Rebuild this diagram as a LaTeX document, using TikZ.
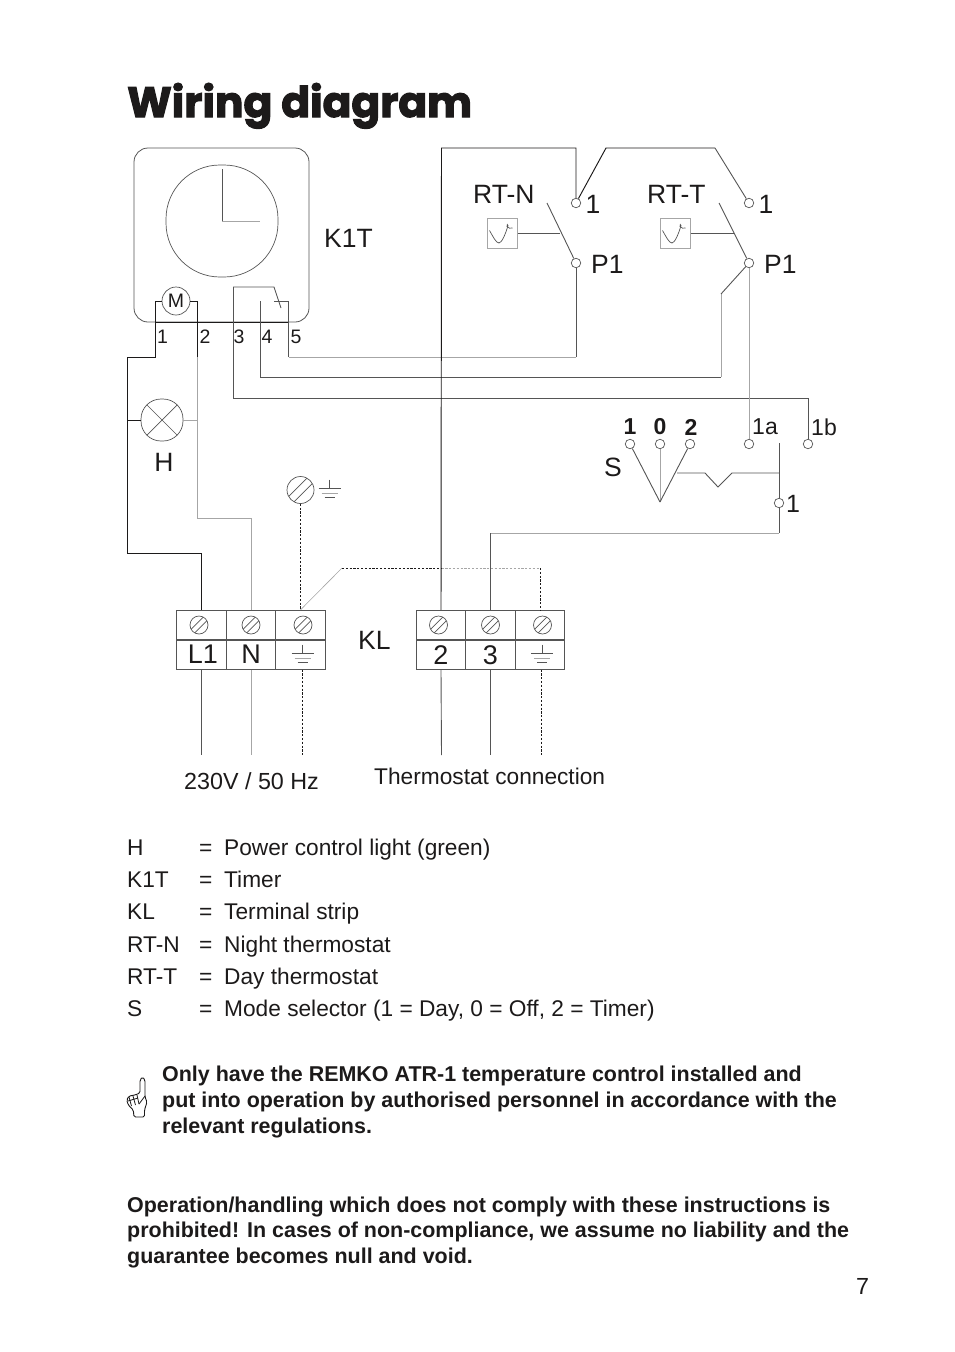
\documentclass[tikz,border=0pt]{standalone}
\usepackage{fontspec}
\setmainfont{Liberation Sans}
\newfontfamily\titlefont[FakeBold=2.6]{Poppins Bold}
\usetikzlibrary{calc,positioning}
\definecolor{inkk}{HTML}{1C1A1A}
\definecolor{wiredk}{HTML}{555555}
\definecolor{wirelt}{HTML}{A6A6A6}
\tikzset{
  wirek/.style={draw=inkk, line width=0.95pt},
  wired/.style={draw=wiredk, line width=0.9pt},
  wirel/.style={draw=wirelt, line width=1pt},
  earthw/.style={draw=inkk, line width=0.9pt, dash pattern=on 2.2pt off 1.6pt},
  earthl/.style={draw=wirelt, line width=0.9pt, dash pattern=on 2.2pt off 1.6pt},
  lbl/.style={text=inkk, inner sep=0pt, font=\fontsize{26.5}{30}\selectfont},
  lblb/.style={text=inkk, inner sep=0pt, font=\fontsize{23}{26}\selectfont},
  lbls/.style={text=inkk, inner sep=0pt, font=\fontsize{19.5}{22}\selectfont},
  lblbold/.style={text=inkk, inner sep=0pt, font=\fontsize{23}{26}\selectfont\bfseries},
  legend/.style={text=inkk, inner sep=0pt, anchor=base west, font=\fontsize{22.7}{26}\selectfont},
  para/.style={text=inkk, inner sep=0pt, anchor=base west, align=left, font=\fontsize{21.45}{25.6}\selectfont\bfseries},
  term/.style={circle, draw=wiredk, line width=0.7pt, fill=white, inner sep=0pt, minimum size=9.5pt},
  cell/.style={rectangle, draw=wiredk, line width=0.8pt, inner sep=0pt, minimum width=49.5pt, minimum height=29.5pt, text=inkk, font=\fontsize{27}{30}\selectfont},
  senbox/.style={rectangle, draw=wirelt, line width=1pt, inner sep=0pt, minimum size=30pt},
  screw/.style={circle, draw=wiredk, line width=0.7pt, inner sep=0pt, minimum size=#1,
    path picture={
      \draw[wiredk, line width=0.7pt] ($(path picture bounding box.center)+(-0.5*#1,-0.5*#1-0.2*#1)$) -- +(#1,#1);
      \draw[wiredk, line width=0.7pt] ($(path picture bounding box.center)+(-0.5*#1,-0.5*#1+0.2*#1)$) -- +(#1,#1);
    }},
  earth/.pic={
    \draw[wired] (0,-9) -- (0,0);
    \draw[wired] (-11,0) -- (11,0);
    \draw[wirel] (-8,4.5) -- (8,4.5);
    \draw[wired] (-5,9) -- (5,9);
  },
  sensor/.pic={
    \draw[wiredk, line width=0.7pt] (-12.5,-3) .. controls (-9,3) and (-6,9.5) .. (-3,9.5)
      .. controls (-0.5,9.5) and (3.5,1) .. (6,-8) .. controls (6.5,-10) and (4,-9) .. (5,-7)
      .. controls (6,-5) and (9,-5) .. (10.5,-5.5);
  },
}
\newcommand{\legendrow}[4]{
  \node[legend] (#1key) at (127,#2) {#3};
  \node[legend] (#1eq) at (199,#2) {=};
  \node[legend] (#1txt) at (224,#2) {#4};
}

\begin{document}
\begin{tikzpicture}[x=1pt,y=-1pt]
  \useasboundingbox (0,0) rectangle (954,1352);

  % --- Title ---
  \node[anchor=base west, inner sep=0pt, text=inkk, font=\fontsize{42.4}{44}\titlefont] (title) at (127,117) {Wiring diagram};

  % --- Timer K1T ---
  \node[rectangle, draw=wiredk, line width=0.8pt, rounded corners=14pt, minimum width=175pt, minimum height=174pt, inner sep=0pt] (K1Tbox) at (221.5,235) {};
  \node[rectangle, rounded corners=54pt, draw=wiredk, line width=0.7pt, minimum size=112pt, inner sep=0pt] (clock) at (222,221) {};
  \coordinate (handtop) at (222,169);
  \coordinate (handmid) at (222,221);
  \coordinate (handend) at (260,221);
  \draw[wired] (handtop) -- (handmid);
  \draw[wirel] (handmid) -- (handend);
  \node[circle, draw=wiredk, line width=0.7pt, minimum size=28pt, inner sep=0pt, text=inkk, font=\fontsize{19.5}{22}\selectfont] (M) at (176,301) {M};
  \coordinate (baseL) at (155,322);
  \coordinate (baseR) at (288.5,322);
  \draw[wirek] (baseL) -- (baseR);
  \node[lbl, anchor=base west] (K1Tlab) at (324,247) {K1T};
  \node[lbls] (pin1) at (162.5,337) {1};
  \node[lbls] (pin2) at (205,337) {2};
  \node[lbls] (pin3) at (239,337) {3};
  \node[lbls] (pin4) at (267,337) {4};
  \node[lbls] (pin5) at (296,337) {5};

  % Timer contact
  \coordinate (c3a) at (233,287);
  \coordinate (c3b) at (274,287);
  \coordinate (c3c) at (281,308);
  \coordinate (c4a) at (260,301);
  \coordinate (c5a) at (274,301);
  \coordinate (c5b) at (288.5,301);
  \draw[wired] (c3a) -- (c3b) -- (c3c);
  \draw[wired] (c5a) -- (c5b);

  % --- Lamp H ---
  \node[rectangle, rounded corners=20pt, draw=wiredk, line width=0.7pt, minimum size=42pt, inner sep=0pt,
    path picture={
      \draw[wiredk, line width=0.7pt] (path picture bounding box.north west) -- (path picture bounding box.south east);
      \draw[wiredk, line width=0.7pt] (path picture bounding box.north east) -- (path picture bounding box.south west);
    }] (H) at (162,420) {};
  \node[lbl] (Hlab) at (164,462) {H};

  % --- Terminal strip, mains side ---
  \node[cell] (screwL) at (201.5,625) {};
  \node[cell] (screwN) at (251,625) {};
  \node[cell] (screwE) at (300.5,625) {};
  \node[cell] (cellL) at (201.5,654.7) {\hspace{3pt}L1};
  \node[cell] (cellN) at (251,654.7) {N};
  \node[cell] (cellE) at (300.5,654.7) {};
  \node[screw=18pt] (sL) at (199,625) {};
  \node[screw=18pt] (sN) at (251,625) {};
  \node[screw=18pt] (sE) at (303,625) {};
  \pic at (302.5,653.5) {earth};

  % --- Terminal strip, thermostat side ---
  \node[cell] (screw2) at (441,625) {};
  \node[cell] (screw3) at (490.5,625) {};
  \node[cell] (screwF) at (540,625) {};
  \node[cell] (cell2) at (441,654.7) {2};
  \node[cell] (cell3) at (490.5,654.7) {3};
  \node[cell] (cellF) at (540,654.7) {};
  \node[screw=18pt] (s2) at (438.5,625) {};
  \node[screw=18pt] (s3) at (490.5,625) {};
  \node[screw=18pt] (sF) at (542.5,625) {};
  \pic at (542,653.5) {earth};
  \node[lbl, anchor=base west] (KLlab) at (358,649) {KL};

  % --- Earth screw ---
  \node[screw=27pt] (PE) at (300.5,490) {};
  \pic at (329.5,488.5) {earth};

  % --- Thermostat RT-N ---
  \node[lbl, anchor=base west] (RTNlab) at (473,203) {RT-N};
  \node[senbox] (senN) at (502,233.5) {};
  \pic at (502,233.5) {sensor};
  \node[term] (N1) at (576,203) {};
  \node[term] (NP) at (576,263) {};
  \node[lbl] (N1lab) at (593,204) {1};
  \node[lbl, anchor=base west] (NPlab) at (591,273) {P1};
  \coordinate (Nsw) at (547,203);
  \coordinate (Nlink) at (560,233.5);
  \draw[wired] (Nsw) -- (NP);
  \draw[wired] (senN.east) -- (Nlink);

  % --- Thermostat RT-T ---
  \node[lbl, anchor=base west] (RTTlab) at (647,203) {RT-T};
  \node[senbox] (senT) at (675,233.5) {};
  \pic at (675,233.5) {sensor};
  \node[term] (T1) at (749,203) {};
  \node[term] (TP) at (749,263) {};
  \node[lbl] (T1lab) at (766,204) {1};
  \node[lbl, anchor=base west] (TPlab) at (764,273) {P1};
  \coordinate (Tsw) at (719,203);
  \coordinate (Tlink) at (734,233.5);
  \draw[wired] (Tsw) -- (TP);
  \draw[wired] (senT.east) -- (Tlink);

  % --- Mode selector S ---
  \node[term] (S1) at (630,444) {};
  \node[term] (S0) at (660,444) {};
  \node[term] (S2) at (690,444) {};
  \node[term] (Sa) at (749,444) {};
  \node[term] (Sb) at (808,444) {};
  \node[lblbold] (S1lab) at (630,427) {1};
  \node[lblbold] (S0lab) at (660,427) {0};
  \node[lblbold] (S2lab) at (691,427) {2};
  \node[lblb] (Salab) at (765,427) {1a};
  \node[lblb] (Sblab) at (824,427) {1b};
  \node[lbl] (Slab) at (613,467) {S};
  \coordinate (apex) at (660,502);
  \draw[wired] (S1) -- (apex);
  \draw[wirel] (S0) -- (apex);
  \draw[wired] (S2) -- (apex);
  \coordinate (lnk0) at (677,473);
  \coordinate (lnk1) at (705,473);
  \coordinate (lnk2) at (718,487);
  \coordinate (lnk3) at (732,473);
  \coordinate (lnk4) at (779,473);
  \draw[wired] (lnk0) -- (lnk1) -- (lnk2) -- (lnk3) -- (lnk4);
  \coordinate (armtop) at (779,443);
  \coordinate (armlow) at (779,533);
  \coordinate (arm3) at (490.5,533);
  \draw[wired] (armtop) -- (armlow);
  \draw[wirel] (armlow) -- (arm3);
  \draw[wired] (arm3) -- (screw3.north);
  \node[term] (Sc) at (779,503) {};
  \node[lblb, font=\fontsize{25}{28}\selectfont] (Sclab) at (793,504) {1};

  % --- Wires from the timer ---
  \coordinate (w1a) at (155,357);
  \coordinate (w1b) at (127,357);
  \coordinate (w1c) at (127,553);
  \coordinate (w1h) at (127,420);
  \draw[wirek] (M.west) -| (w1a) -- (w1b) -- (w1c) -| (screwL.north);
  \draw[wirek] (w1h) -- (H.west);
  \coordinate (w2a) at (197,357);
  \coordinate (w2b) at (197,518);
  \coordinate (w2h) at (197,420);
  \draw[wirek] (M.east) -| (w2a);
  \draw[wirel] (w2a) -- (w2b) -| (screwN.north);
  \draw[wirel] (H.east) -- (w2h);
  \coordinate (w3a) at (233,398);
  \coordinate (w3b) at (808,398);
  \draw[wired] (c3a) -- (w3a) -- (w3b) -- (Sb);
  \coordinate (w4a) at (260,377);
  \coordinate (w4b) at (721,377);
  \coordinate (w4c) at (721,294);
  \draw[wired] (c4a) -- (w4a) -- (w4b);
  \draw[wirel] (w4b) -- (w4c);
  \draw[wired] (w4c) -- (TP);
  \coordinate (w5a) at (288.5,357);
  \coordinate (w5b) at (576,357);
  \draw[wired] (c5b) -- (w5a);
  \draw[wirel] (w5a) -- (w5b);
  \draw[wired] (w5b) -- (NP);
  \draw[wirel] (TP) -- (Sa);

  % Wires across the top
  \coordinate (k1) at (441.5,148);
  \coordinate (k2) at (576,148);
  \coordinate (k3) at (606,148);
  \coordinate (k4) at (715,148);
  \draw[wirek] (screw2.north) -- (k1) -- (k2) -- (N1);
  \draw[wirek] (N1) -- (k3) -- (k4);
  \draw[wired] (k4) -- (T1);

  % Earth wires
  \coordinate (e1) at (342,568);
  \coordinate (e2) at (441.5,568);
  \coordinate (e3) at (540,568);
  \draw[earthw] (PE) -- (screwE.north);
  \draw[wirel, line width=0.6pt] (screwE.north) -- (e1);
  \draw[earthw] (e1) -- (e2);
  \draw[earthl] (e2) -- (e3);
  \draw[earthw] (e3) -- (screwF.north);

  % Supply leads
  \coordinate (endL) at (201.5,755);
  \coordinate (endN) at (251,755);
  \coordinate (endE) at (302.5,755);
  \coordinate (end2) at (441.5,755);
  \coordinate (end3) at (490.5,755);
  \coordinate (endF) at (541.5,755);
  \coordinate (startE) at (302.5,669.5);
  \coordinate (startF) at (541.5,669.5);
  \draw[wired] (cellL.south) -- (endL);
  \draw[wirel] (cellN.south) -- (endN);
  \draw[earthw] (startE) -- (endE);
  \draw[wired] (cell2.south) -- (end2);
  \draw[wired] (cell3.south) -- (end3);
  \draw[earthw] (startF) -- (endF);
  \node[legend, font=\fontsize{23.3}{26}\selectfont] (mains) at (184,789) {230V / 50 Hz};
  \node[legend] (thermo) at (374,784) {Thermostat connection};

  % --- Legend ---
  \legendrow{H}{855}{H}{Power control light (green)}
  \legendrow{K}{887}{K1T}{Timer}
  \legendrow{L}{919}{KL}{Terminal strip}
  \legendrow{N}{952}{RT-N}{Night thermostat}
  \legendrow{T}{984}{RT-T}{Day thermostat}
  \legendrow{S}{1016}{S}{Mode selector (1 = Day, 0 = Off, 2 = Timer)}

  % --- Notes ---
  \draw[wirek, line width=0.9pt, rounded corners=1.5pt, fill=white]
    (140,1093) -- (140,1080) -- (142.5,1077) -- (145,1080) -- (145,1097) -- (147,1102)
    -- (144.5,1110) -- (144.5,1117) -- (134,1117) -- (133.3,1110) -- (128.3,1105)
    -- (126.7,1100) -- (129,1096) -- (135,1095) -- cycle;
  \draw[wirek, line width=0.8pt] (129,1097) -- (131.5,1106);
  \draw[wirek, line width=0.8pt] (133,1096) -- (135.5,1105);
  \draw[wirek, line width=0.8pt] (137,1095) -- (139,1104);
  \draw[wirek, line width=0.8pt] (128,1101) -- (138,1098);
  \draw[wirek, line width=0.8pt] (139,1104) -- (145,1096);
  \node[para] (note1) at (162,1133) {Only have the REMKO ATR-1 temperature control installed and\\put into operation by authorised personnel in accordance with the\\relevant regulations.};
  \node[para] (note2) at (127,1263.5) {Operation/handling which does not comply with these instructions is\\prohibited! In cases of non-compliance, we assume no liability and the\\guarantee becomes null and void.};
  \node[legend, font=\fontsize{23.3}{26}\selectfont] (page) at (856,1294) {7};
\end{tikzpicture}
\end{document}
